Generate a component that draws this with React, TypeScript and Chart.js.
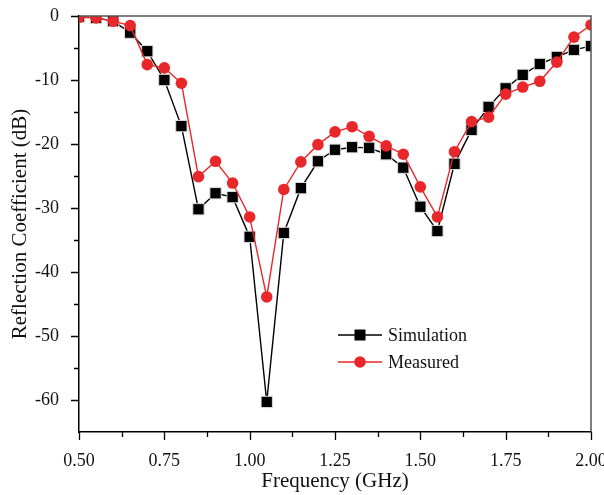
import React, { useEffect, useRef } from 'react';
import { Chart, registerables } from 'chart.js';

Chart.register(...registerables);

const frequencies = [0.50, 0.55, 0.60, 0.65, 0.70, 0.75, 0.80, 0.85, 0.90, 0.95, 1.00, 1.05, 1.10, 1.15, 1.20, 1.25, 1.30, 1.35, 1.40, 1.45, 1.50, 1.55, 1.60, 1.65, 1.70, 1.75, 1.80, 1.85, 1.90, 1.95, 2.00];
const simulation = [-0.1, -0.3, -0.8, -2.6, -5.5, -10.0, -17.2, -30.2, -27.7, -28.3, -34.5, -60.3, -33.9, -26.9, -22.7, -20.9, -20.5, -20.6, -21.6, -23.7, -29.8, -33.6, -23.1, -17.8, -14.2, -11.3, -9.2, -7.5, -6.4, -5.3, -4.7];
const measured = [-0.2, -0.3, -0.8, -1.5, -7.6, -8.1, -10.5, -25.1, -22.7, -26.1, -31.4, -43.9, -27.1, -22.8, -20.1, -18.1, -17.3, -18.8, -20.3, -21.6, -26.7, -31.4, -21.2, -16.5, -15.8, -12.2, -11.1, -10.2, -7.2, -3.3, -1.4];
const xTicks = [0.5, 0.75, 1.0, 1.25, 1.5, 1.75, 2.0];
const xMinorTicks = [0.625, 0.875, 1.125, 1.375, 1.625, 1.875];
const yTicks = [0, -10, -20, -30, -40, -50, -60];
const yMinorTicks = [-5, -15, -25, -35, -45, -55];

const RED = '#e8272b';
const FONT = "'Liberation Serif', 'DejaVu Serif', serif";

const decorPlugin = {
  id: 'decor',
  afterDraw(chart: any) {
    const { ctx, chartArea: a, scales } = chart;
    const x = scales.x;
    const y = scales.y;
    ctx.save();
    // top & right frame
    ctx.strokeStyle = '#555';
    ctx.lineWidth = 1.5;
    ctx.beginPath();
    ctx.moveTo(a.left, a.top);
    ctx.lineTo(a.right, a.top);
    ctx.lineTo(a.right, a.bottom);
    ctx.stroke();
    // ticks
    ctx.strokeStyle = '#000';
    ctx.lineWidth = 1.3;
    ctx.beginPath();
    xTicks.forEach((v) => {
      const px = Math.round(x.getPixelForValue(v)) + 0.5;
      ctx.moveTo(px, a.bottom);
      ctx.lineTo(px, a.bottom + 8);
    });
    xMinorTicks.forEach((v) => {
      const px = Math.round(x.getPixelForValue(v)) + 0.5;
      ctx.moveTo(px, a.bottom);
      ctx.lineTo(px, a.bottom + 5);
    });
    yTicks.forEach((v) => {
      const py = Math.round(y.getPixelForValue(v)) + 0.5;
      ctx.moveTo(a.left, py);
      ctx.lineTo(a.left - 8, py);
    });
    yMinorTicks.forEach((v) => {
      const py = Math.round(y.getPixelForValue(v)) + 0.5;
      ctx.moveTo(a.left, py);
      ctx.lineTo(a.left - 5, py);
    });
    ctx.stroke();

    // legend
    const items = [
      { label: chart.data.datasets[1].label, color: '#000', style: 'rect' },
      { label: chart.data.datasets[0].label, color: RED, style: 'circle' },
    ];
    const lx = 338;
    const rows = [335, 362];
    items.forEach((it, i) => {
      const ry = rows[i];
      ctx.strokeStyle = it.color;
      ctx.lineWidth = 1.4;
      ctx.beginPath();
      ctx.moveTo(lx, ry);
      ctx.lineTo(lx + 44, ry);
      ctx.stroke();
      ctx.fillStyle = it.color;
      if (it.style === 'rect') {
        ctx.fillRect(lx + 22 - 5.5, ry - 5.5, 11, 11);
      } else {
        ctx.beginPath();
        ctx.arc(lx + 22, ry, 5.8, 0, Math.PI * 2);
        ctx.fill();
      }
      ctx.fillStyle = '#111';
      ctx.font = `18px ${FONT}`;
      ctx.textBaseline = 'middle';
      ctx.textAlign = 'left';
      ctx.fillText(it.label, lx + 50, ry + 1);
    });
    ctx.restore();
  },
};

export default function App() {
  const ref = useRef<HTMLCanvasElement | null>(null);
  useEffect(() => {
    if (!ref.current) return;
    const chart = new Chart(ref.current, {
      type: 'line',
      data: {
        labels: frequencies,
        datasets: [
          {
            label: 'Measured',
            data: frequencies.map((f, i) => ({ x: f, y: measured[i] })),
            borderColor: RED,
            backgroundColor: RED,
            borderWidth: 1.4,
            pointStyle: 'circle',
            pointRadius: 5.8,
            pointBorderWidth: 0,
            pointBackgroundColor: RED,
            order: 0,
          },
          {
            label: 'Simulation',
            data: frequencies.map((f, i) => ({ x: f, y: simulation[i] })),
            borderColor: '#000',
            backgroundColor: '#000',
            borderWidth: 1.4,
            pointStyle: 'rect',
            pointRadius: 8,
            pointBorderWidth: 1,
            pointBorderColor: '#ddd',
            pointBackgroundColor: '#000',
            order: 1,
          },
        ],
      },
      options: {
        responsive: false,
        animation: false,
        devicePixelRatio: 1,
        layout: { padding: { top: 16, right: 13, left: 0, bottom: 0 } },
        plugins: { legend: { display: false }, tooltip: { enabled: false } },
        scales: {
          x: {
            type: 'linear',
            min: 0.5,
            max: 2.0,
            grid: { display: false },
            border: { display: true, color: '#000', width: 1.5 },
            afterBuildTicks: (s: any) => { s.ticks = xTicks.map((v) => ({ value: v })); },
            afterFit: (s: any) => { s.height = 63; s.paddingLeft = 0; s.paddingRight = 0; },
            ticks: {
              color: '#111',
              font: { family: FONT, size: 18 },
              padding: 10,
              maxRotation: 0,
              callback: (v: any) => Number(v).toFixed(2),
            },
            title: {
              display: true,
              text: 'Frequency (GHz)',
              color: '#111',
              font: { family: FONT, size: 21 },
              padding: { top: 0, bottom: 1 },
            },
          },
          y: {
            type: 'linear',
            min: -65,
            max: 0,
            grid: { display: false },
            border: { display: true, color: '#000', width: 1.5 },
            afterBuildTicks: (s: any) => { s.ticks = yTicks.map((v) => ({ value: v })); },
            afterFit: (s: any) => { s.width = 79; s.paddingTop = 0; s.paddingBottom = 0; },
            ticks: {
              color: '#111',
              font: { family: FONT, size: 18 },
              padding: 12,
              callback: (v: any) => String(v),
            },
            title: {
              display: true,
              text: 'Reflection Coefficient (dB)',
              color: '#111',
              font: { family: FONT, size: 21 },
              padding: { top: 8, bottom: 0 },
            },
          },
        },
      },
      plugins: [decorPlugin],
    });
    return () => chart.destroy();
  }, []);
  return (
    <div style={{ position: 'fixed', left: 0, top: 0, width: 604, height: 495, background: '#fff' }}>
      <canvas ref={ref} width={604} height={495} style={{ width: 604, height: 495, display: 'block' }} />
    </div>
  );
}
